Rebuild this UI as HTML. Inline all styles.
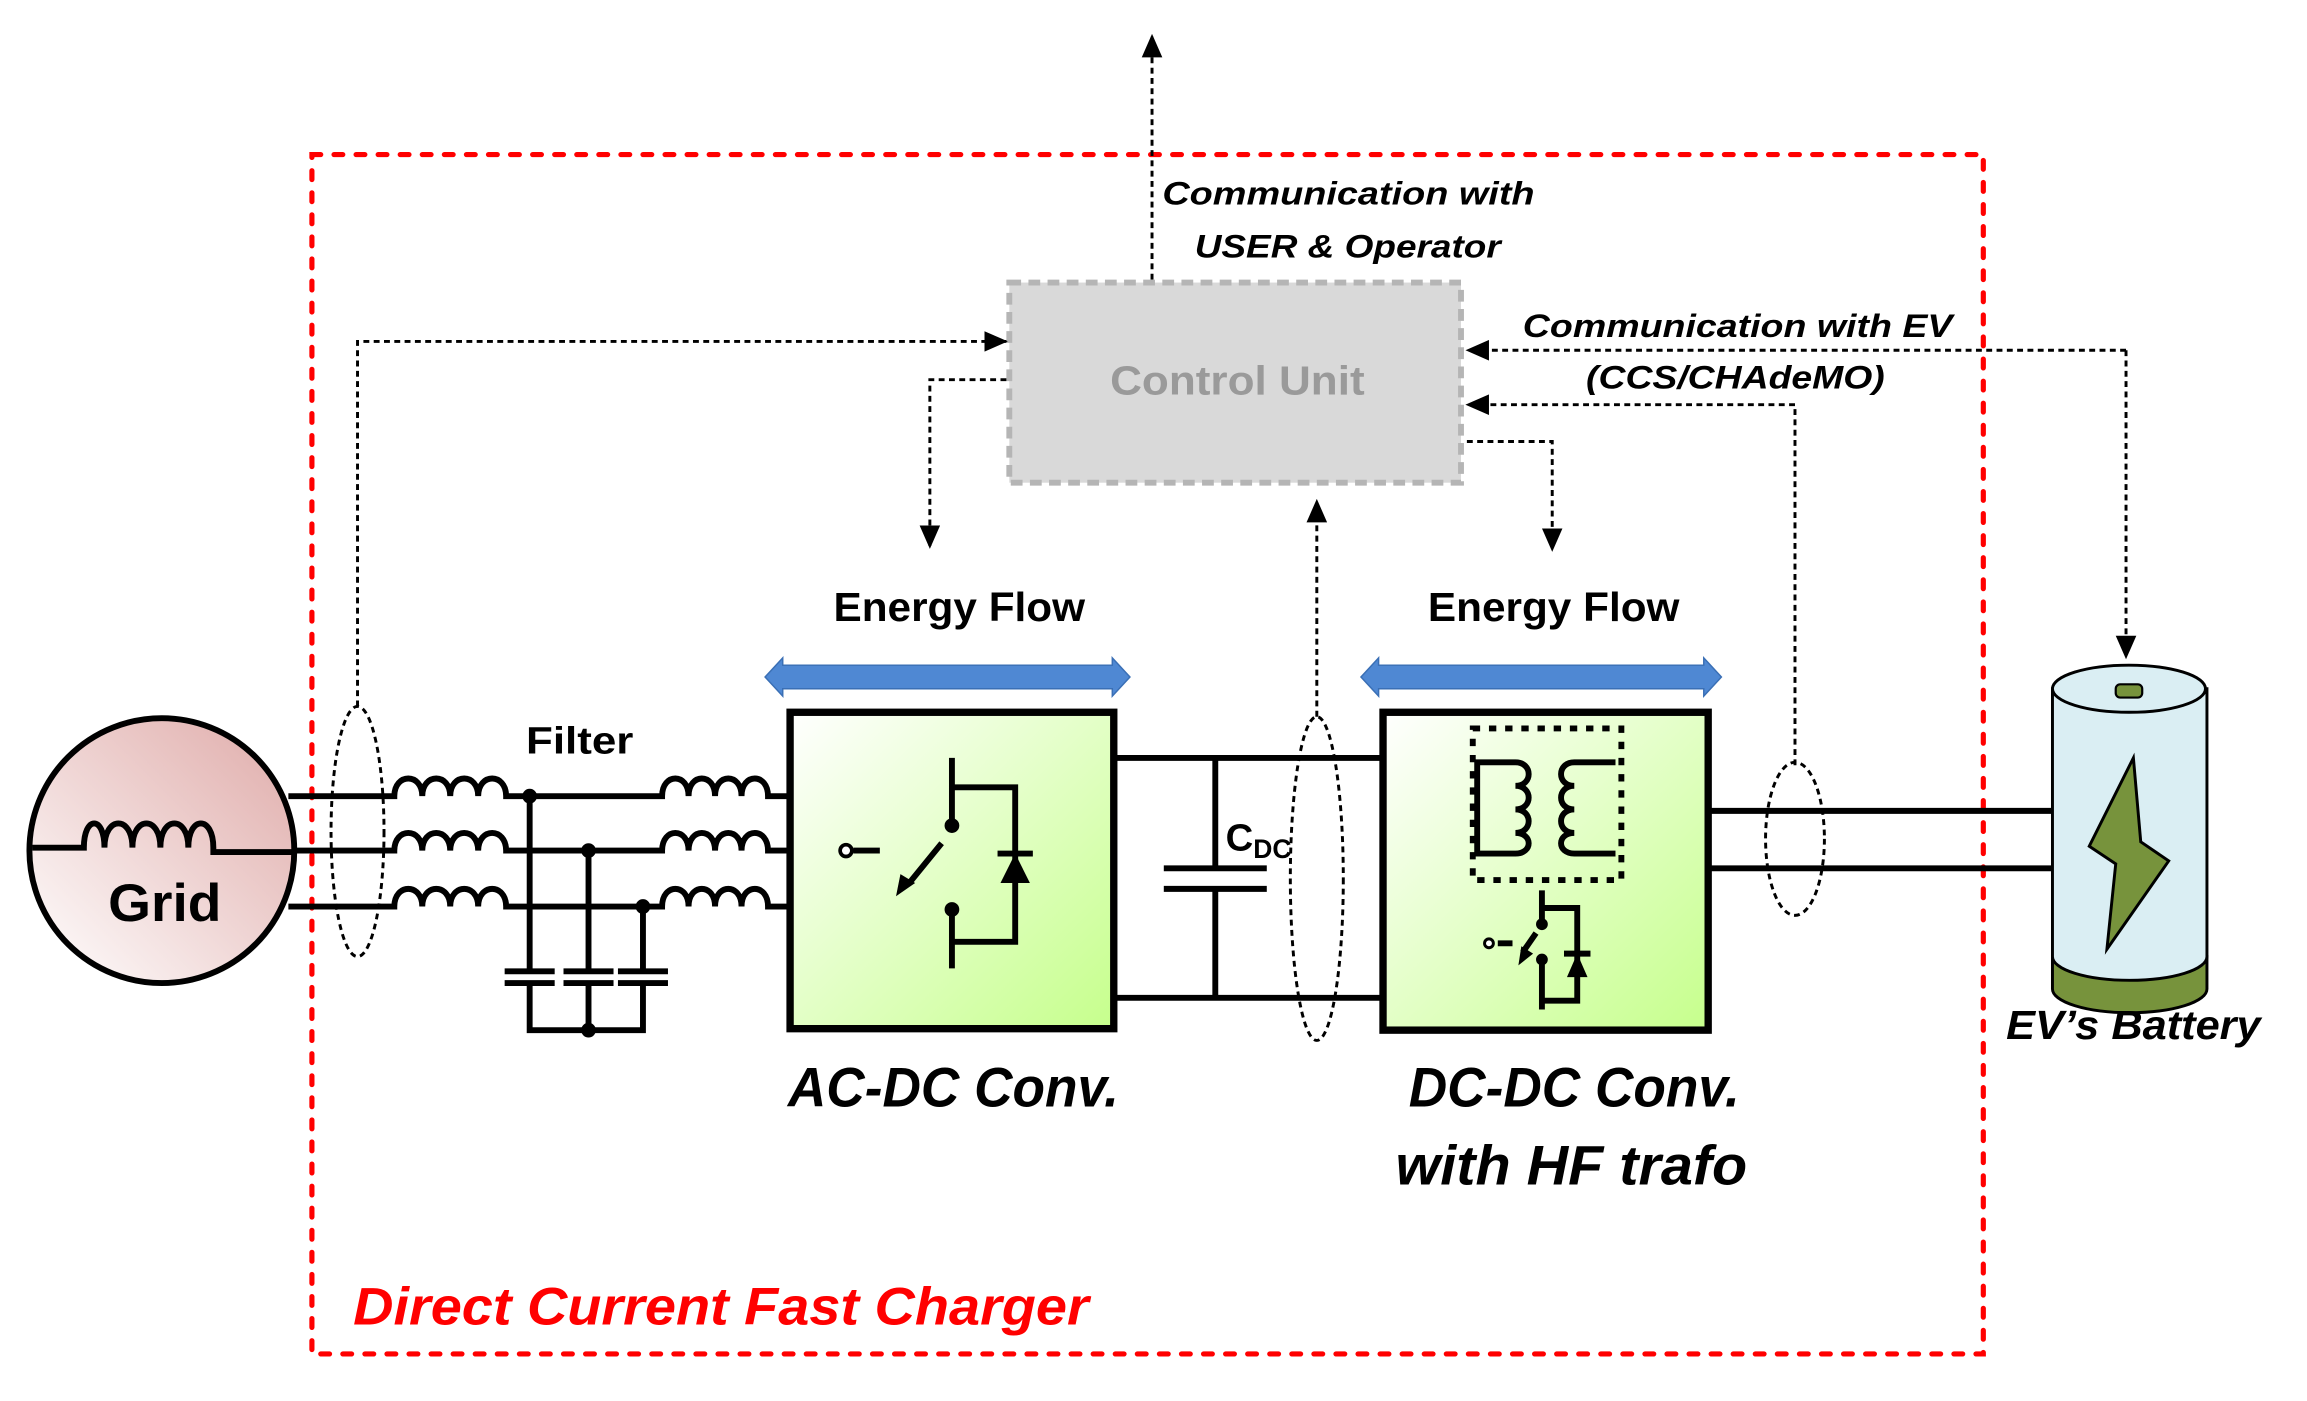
<!DOCTYPE html>
<html><head><meta charset="utf-8"><style>html,body{margin:0;padding:0;background:#fff}svg{display:block}</style></head>
<body>
<svg width="2307" height="1401" viewBox="0 0 1568 952" preserveAspectRatio="none" xmlns="http://www.w3.org/2000/svg" font-family="'Liberation Sans',sans-serif">
<defs>
<linearGradient id="gr" x1="0" y1="0" x2="1" y2="1"><stop offset="0" stop-color="#fff"/><stop offset="1" stop-color="#c6ff8c"/></linearGradient>
<linearGradient id="pk" x1="1" y1="0" x2="0" y2="1"><stop offset="0" stop-color="#dfaaa8"/><stop offset="1" stop-color="#fff"/></linearGradient>
<marker id="ah2" markerWidth="16" markerHeight="14" refX="15" refY="7" orient="auto" markerUnits="userSpaceOnUse"><path d="M0,0 L16,7 L0,14 z" fill="#000"/></marker>
</defs>

<!-- red boundary -->
<rect x="212" y="105" width="1136" height="815" fill="none" stroke="#f00" stroke-width="3.5" stroke-dasharray="6,9" stroke-linecap="round"/>

<!-- top arrow -->
<line x1="783" y1="190" x2="783" y2="24" stroke="#000" stroke-width="2" stroke-dasharray="4,3" marker-end="url(#ah2)"/>
<g font-weight="bold" font-style="italic" font-size="22">
<text x="790" y="139" textLength="253" lengthAdjust="spacingAndGlyphs">Communication with</text>
<text x="812" y="175" textLength="208" lengthAdjust="spacingAndGlyphs">USER &amp; Operator</text>
<text x="1035" y="229" textLength="292" lengthAdjust="spacingAndGlyphs">Communication with EV</text>
<text x="1078" y="264" textLength="203" lengthAdjust="spacingAndGlyphs">(CCS/CHAdeMO)</text>
</g>

<!-- control unit -->
<rect x="686" y="192" width="307" height="136" fill="#d9d9d9" stroke="#b5b5b5" stroke-width="4" stroke-dasharray="8,5"/>
<text x="841" y="268" font-size="28" font-weight="bold" fill="#9a9a9a" text-anchor="middle" textLength="173" lengthAdjust="spacingAndGlyphs">Control Unit</text>

<!-- dotted control lines -->
<g fill="none" stroke="#000" stroke-width="2" stroke-dasharray="4,3">
<path d="M243 480 V232 H684" marker-end="url(#ah2)"/>
<path d="M684 258 H632 V372" marker-end="url(#ah2)"/>
<path d="M1445 238 H997" marker-end="url(#ah2)"/>
<path d="M1445 238 V447" marker-end="url(#ah2)"/>
<path d="M1220 520 V275 H997" marker-end="url(#ah2)"/>
<path d="M997 300 H1055 V374" marker-end="url(#ah2)"/>
<path d="M895 487 V340" marker-end="url(#ah2)"/>
<ellipse cx="243" cy="565" rx="18" ry="85"/>
<ellipse cx="895" cy="597" rx="18" ry="110"/>
<ellipse cx="1220" cy="570" rx="20" ry="52"/>
</g>

<!-- energy flow -->
<g font-size="28" font-weight="bold" text-anchor="middle">
<text x="652" y="422" textLength="171" lengthAdjust="spacingAndGlyphs">Energy Flow</text>
<text x="1056" y="422" textLength="171" lengthAdjust="spacingAndGlyphs">Energy Flow</text>
</g>
<g fill="#4f88d3" stroke="#3a6fb5" stroke-width="1">
<path d="M520 460 L532 447 V452 H756 V447 L768 460 L756 473 V468 H532 V473 z"/>
<path d="M925 460 L937 447 V452 H1158 V447 L1170 460 L1158 473 V468 H937 V473 z"/>
</g>

<!-- grid -->
<circle cx="110" cy="578" r="90" fill="url(#pk)" stroke="#000" stroke-width="4"/>
<path d="M22 576 H57 c0,-22 14,-22 14,0 c0,-22 19,-22 19,0 c0,-22 19,-22 19,0 c0,-22 19,-22 19,0 c0,-22 17,-22 17,0 c0,3 0,3 0,3 H200" fill="none" stroke="#000" stroke-width="4"/>
<text x="112" y="626" font-size="36" font-weight="bold" text-anchor="middle" textLength="77" lengthAdjust="spacingAndGlyphs">Grid</text>

<!-- three-phase lines -->
<g fill="none" stroke="#000" stroke-width="4">
<path d="M196 541 H268 c0,-16 19,-16 19,0 c0,-16 19,-16 19,0 c0,-16 19,-16 19,0 c0,-16 19,-16 19,0 H450 c0,-16 18,-16 18,0 c0,-16 18,-16 18,0 c0,-16 18,-16 18,0 c0,-16 18,-16 18,0 H537"/>
<path d="M200 578 H268 c0,-16 19,-16 19,0 c0,-16 19,-16 19,0 c0,-16 19,-16 19,0 c0,-16 19,-16 19,0 H450 c0,-16 18,-16 18,0 c0,-16 18,-16 18,0 c0,-16 18,-16 18,0 c0,-16 18,-16 18,0 H537"/>
<path d="M196 616 H268 c0,-16 19,-16 19,0 c0,-16 19,-16 19,0 c0,-16 19,-16 19,0 c0,-16 19,-16 19,0 H450 c0,-16 18,-16 18,0 c0,-16 18,-16 18,0 c0,-16 18,-16 18,0 c0,-16 18,-16 18,0 H537"/>
<path d="M360 541 V660 M360 668 V700 H437 V668 M437 660 V616 M400 578 V660 M400 668 V700"/>
<path d="M343 660 H377 M343 668 H377 M383 660 H417 M383 668 H417 M420 660 H454 M420 668 H454"/>
</g>
<g fill="#000"><circle cx="360" cy="541" r="5"/><circle cx="400" cy="578" r="5"/><circle cx="437" cy="616" r="5"/><circle cx="400" cy="700" r="5"/></g>
<text x="394" y="512" font-size="26" font-weight="bold" text-anchor="middle" textLength="73" lengthAdjust="spacingAndGlyphs">Filter</text>

<!-- AC-DC box -->
<rect x="537" y="484" width="220" height="215" fill="url(#gr)" stroke="#000" stroke-width="5"/>
<g fill="none" stroke="#000" stroke-width="4">
<path d="M647 515 V561 M647 618 V658 M647 535 H690 V640 H647 M640 573 L618 600 M580 578 H598"/>
<path d="M678 580 H702"/>
</g>
<g fill="#000"><circle cx="647" cy="561" r="5"/><circle cx="647" cy="618" r="5"/><path d="M609 609 L612 594 L622 600 z"/><path d="M690 580 L680 600 H700 z"/></g>
<circle cx="575" cy="578" r="4" fill="#fff" stroke="#000" stroke-width="2.5"/>
<text x="648" y="752" font-size="38" font-weight="bold" font-style="italic" text-anchor="middle" textLength="225" lengthAdjust="spacingAndGlyphs">AC-DC Conv.</text>

<!-- DC link -->
<g fill="none" stroke="#000" stroke-width="4">
<path d="M757 515 H940 M757 678 H940 M826 515 V590 M826 604 V678 M791 590 H861 M791 604 H861"/>
</g>
<text x="833" y="578" font-size="26" font-weight="bold">C<tspan font-size="18" dy="5">DC</tspan></text>

<!-- DC-DC box -->
<rect x="940" y="484" width="221" height="216" fill="url(#gr)" stroke="#000" stroke-width="5"/>
<rect x="1001" y="495" width="101" height="103" fill="none" stroke="#000" stroke-width="4" stroke-dasharray="5,6"/>
<g fill="none" stroke="#000" stroke-width="4">
<path d="M1004 518 H1030 c12,0 12,16 0,16 c12,0 12,16 0,16 c12,0 12,16 0,16 c12,0 12,14 0,14 H1004 Z"/>
<path d="M1098 518 H1070 c-12,0 -12,16 0,16 c-12,0 -12,16 0,16 c-12,0 -12,16 0,16 c-12,0 -12,14 0,14 H1098"/>
<path d="M1048 605 V626 M1048 652 V686 M1048 617 H1072 V680 H1048 M1044 634 L1035 647 M1018 641 H1028 M1063 648 H1081"/>
</g>
<g fill="#000"><circle cx="1048" cy="628" r="4"/><circle cx="1048" cy="652" r="4"/><path d="M1032 656 L1034 643 L1042 648 z"/><path d="M1072 648 L1065 664 H1079 z"/></g>
<circle cx="1012" cy="641" r="3" fill="#fff" stroke="#000" stroke-width="2"/>
<g font-size="38" font-weight="bold" font-style="italic" text-anchor="middle">
<text x="1070" y="752" textLength="225" lengthAdjust="spacingAndGlyphs">DC-DC Conv.</text>
<text x="1068" y="805" textLength="239" lengthAdjust="spacingAndGlyphs">with HF trafo</text>
</g>

<!-- output -->
<path d="M1161 551 H1396 M1161 590 H1396" stroke="#000" stroke-width="4"/>

<!-- battery -->
<path d="M1395 650 V672 A52 16 0 0 0 1500 672 V650 Z" fill="#77933c" stroke="#000" stroke-width="2"/>
<path d="M1395 468 V650 A52 16 0 0 0 1500 650 V468 Z" fill="#daeef3" stroke="#000" stroke-width="2"/>
<ellipse cx="1447" cy="468" rx="52" ry="16" fill="#daeef3" stroke="#000" stroke-width="2"/>
<rect x="1438" y="465" width="18" height="9" rx="3" fill="#77933c" stroke="#000" stroke-width="1.5"/>
<path d="M1450 515 L1420 575 L1438 587 L1432 645 L1474 585 L1455 572 Z" fill="#77933c" stroke="#000" stroke-width="2"/>
<text x="1450" y="706" font-size="28" font-weight="bold" font-style="italic" text-anchor="middle" textLength="173" lengthAdjust="spacingAndGlyphs">EV’s Battery</text>

<text x="240" y="900" font-size="36" font-weight="bold" font-style="italic" fill="#f00" textLength="500" lengthAdjust="spacingAndGlyphs">Direct Current Fast Charger</text>
</svg>
</body></html>
